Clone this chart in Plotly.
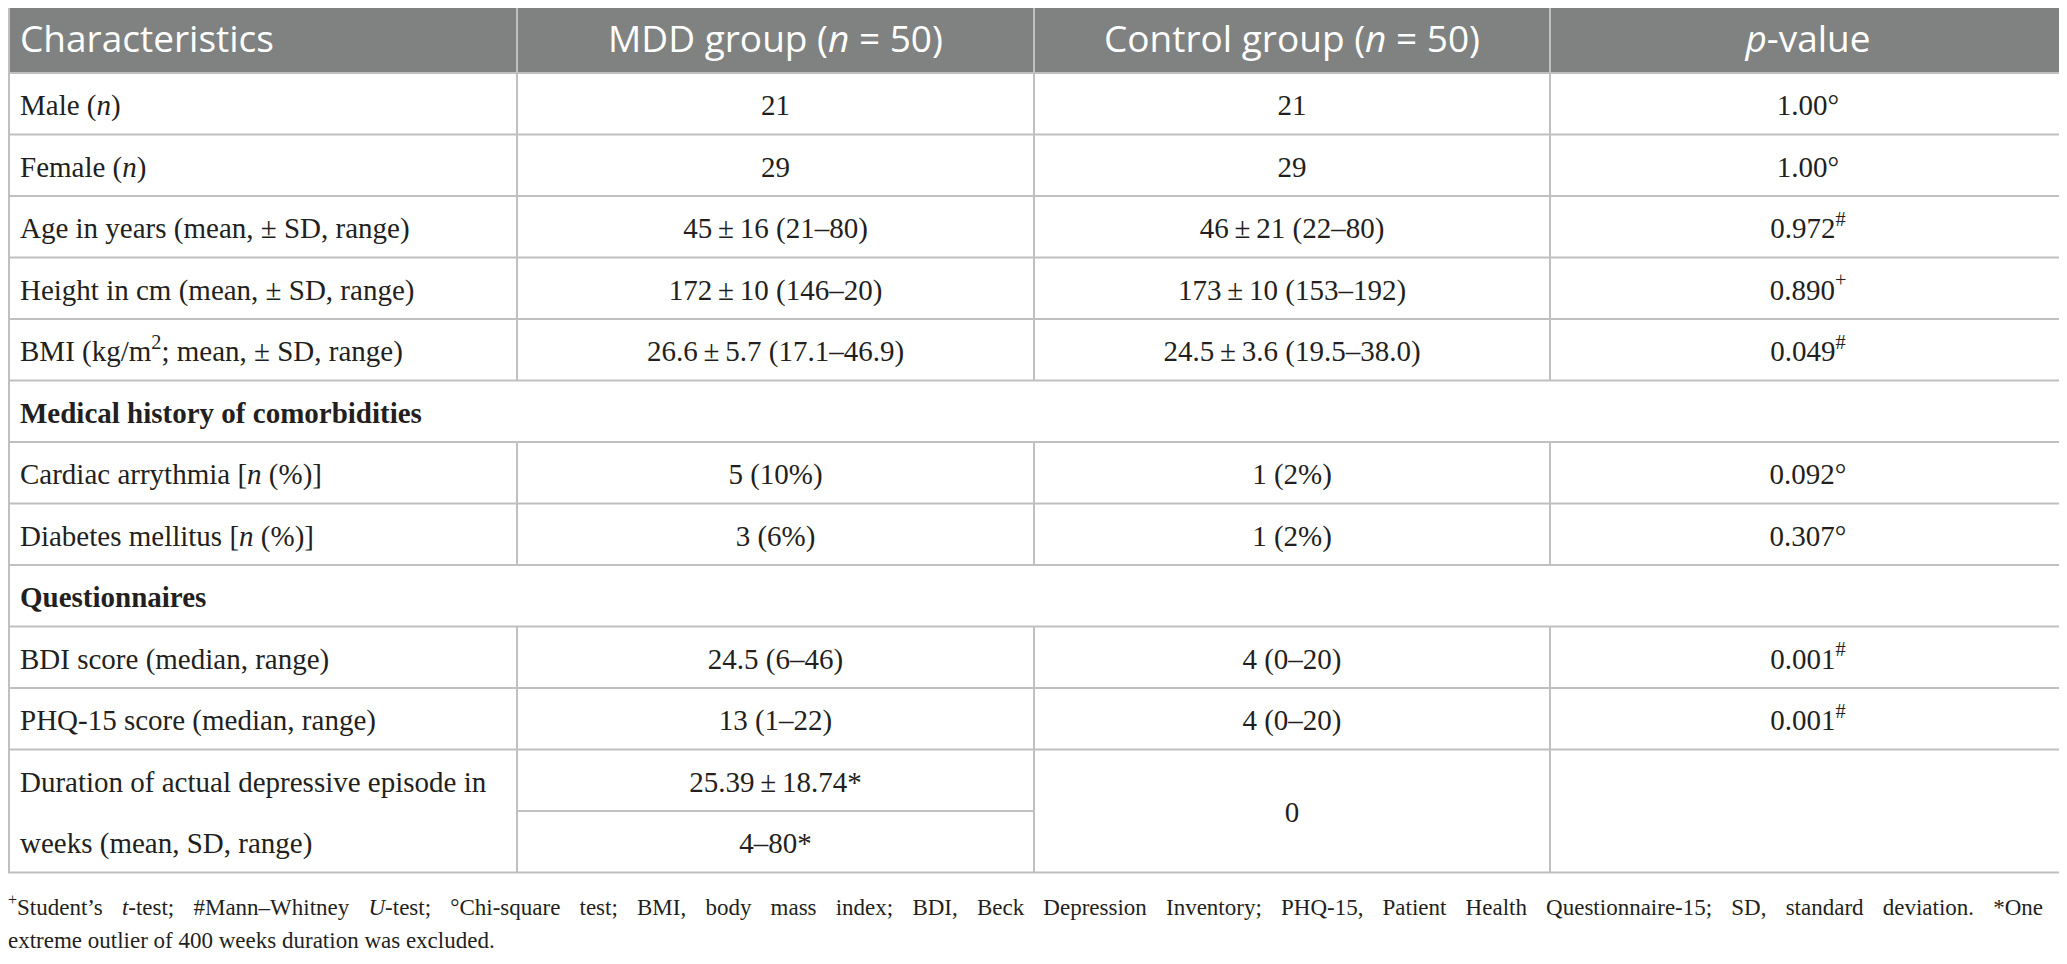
import plotly.graph_objects as go

# table content
header = ["Characteristics", "MDD group (<i>n</i> = 50)", "Control group (<i>n</i> = 50)", "<i>p</i>-value"]

labels = [
    "Male (<i>n</i>)",
    "Female (<i>n</i>)",
    "Age in years (mean, ± SD, range)",
    "Height in cm (mean, ± SD, range)",
    "BMI (kg/m<sup>2</sup>; mean, ± SD, range)",
    "<b>Medical history of comorbidities</b>",
    "Cardiac arrythmia [<i>n</i> (%)]",
    "Diabetes mellitus [<i>n</i> (%)]",
    "<b>Questionnaires</b>",
    "BDI score (median, range)",
    "PHQ-15 score (median, range)",
]
mdd = ["21", "29", "45\u2009±\u200916 (21–80)", "172\u2009±\u200910 (146–20)", "26.6\u2009±\u20095.7 (17.1–46.9)", "",
       "5 (10%)", "3 (6%)", "", "24.5 (6–46)", "13 (1–22)"]
control = ["21", "29", "46\u2009±\u200921 (22–80)", "173\u2009±\u200910 (153–192)", "24.5\u2009±\u20093.6 (19.5–38.0)", "",
           "1 (2%)", "1 (2%)", "", "4 (0–20)", "4 (0–20)"]
pvalue = ["1.00°", "1.00°", "0.972<sup>#</sup>", "0.890<sup>+</sup>", "0.049<sup>#</sup>", "",
          "0.092°", "0.307°", "", "0.001<sup>#</sup>", "0.001<sup>#</sup>"]
section_rows = [5, 8]

duration_label = ["Duration of actual depressive episode in", "weeks (mean, SD, range)"]
duration_mdd = ["25.39\u2009±\u200918.74*", "4–80*"]
duration_control = "0"

footnote = [
    "<sup>+</sup>Student’s <i>t</i>-test; #Mann–Whitney <i>U</i>-test; °Chi-square test; BMI, body mass index; "
    "BDI, Beck Depression Inventory; PHQ-15, Patient Health Questionnaire-15; SD, standard deviation. *One",
    "extreme outlier of 400 weeks duration was excluded.",
]

# geometry (page pixels); the page body has an 8px margin
W, H = 2067, 964
off = 8
col_edges = [0, 517, 1034, 1550, 2066]
top = 4
head_h = 69
row_h = 61.5
pad = 20
dy = 4  # optical nudge of text within its cell
grid = "#c0c0c0"
head_fill = "#808281"
ink = "#231f20"
serif = "Liberation Serif"
sans = "Open Sans"
body_size = 29
justify_space = "\u2002\u2005\u200a"  # first footnote line is justified in the source

centers = [(col_edges[i] + col_edges[i + 1]) / 2 for i in range(4)]
body_top = top + head_h
row_y = [body_top + (i + 0.5) * row_h + dy for i in range(len(labels))]
dur_top = body_top + len(labels) * row_h
dur_bot = dur_top + 2 * row_h
dur_y = [dur_top + 0.5 * row_h + dy, dur_top + 1.5 * row_h + dy, dur_top + row_h + dy]
head_y = top + head_h / 2 + dy


def text_trace(xs, ys, texts, pos, font):
    keep = [(x, y, t) for x, y, t in zip(xs, ys, texts) if t]
    return go.Scatter(
        x=[k[0] for k in keep], y=[k[1] for k in keep], text=[k[2] for k in keep],
        mode="text", textposition=pos, textfont=font, cliponaxis=False,
        hoverinfo="skip", showlegend=False,
    )


body_font = dict(family=serif, size=body_size, color=ink)
head_font = dict(family=sans, size=37, color="white")

fig = go.Figure()

# header text
fig.add_trace(text_trace([col_edges[0] + pad], [head_y], header[:1], "middle right", head_font))
fig.add_trace(text_trace(centers[1:], [head_y] * 3, header[1:], "middle center", head_font))

# first column labels
fig.add_trace(text_trace([col_edges[0] + pad] * len(labels), row_y, labels, "middle right", body_font))

# value columns
for ci, vals in zip([1, 2, 3], [mdd, control, pvalue]):
    fig.add_trace(text_trace([centers[ci]] * len(vals), row_y, vals, "middle center", body_font))

# duration row
fig.add_trace(text_trace([col_edges[0] + pad] * 2, dur_y[:2], duration_label, "middle right", body_font))
fig.add_trace(text_trace([centers[1]] * 2 + [centers[2]], dur_y,
                         duration_mdd + [duration_control], "middle center", body_font))

# footnote
foot_lines = [footnote[0].replace(" ", justify_space), footnote[1]]
fig.add_trace(text_trace([off, off], [909, 942], foot_lines, "middle right",
                         dict(family=serif, size=23, color=ink)))

line = dict(color=grid, width=2)
shapes = []
# header block
shapes.append(dict(type="rect", x0=0, x1=col_edges[-1], y0=top, y1=body_top,
                   fillcolor=head_fill, line=dict(width=0), layer="below"))
shapes.append(dict(type="line", x0=0, x1=col_edges[-1], y0=top, y1=top, line=line))
for x in col_edges[1:-1]:
    shapes.append(dict(type="line", x0=x, x1=x, y0=top, y1=body_top, line=line))

# horizontal rules
for i in range(len(labels) + 1):
    y = body_top + i * row_h
    shapes.append(dict(type="line", x0=0, x1=col_edges[-1], y0=y, y1=y, line=line))
shapes.append(dict(type="line", x0=0, x1=col_edges[-1], y0=dur_bot, y1=dur_bot, line=line))
shapes.append(dict(type="line", x0=col_edges[1], x1=col_edges[2], y0=dur_top + row_h, y1=dur_top + row_h,
                   line=line))

# vertical rules, skipping section rows
for i in range(len(labels)):
    if i in section_rows:
        continue
    y0 = body_top + i * row_h
    for x in col_edges[1:-1]:
        shapes.append(dict(type="line", x0=x, x1=x, y0=y0, y1=y0 + row_h, line=line))
for x in col_edges[1:-1]:
    shapes.append(dict(type="line", x0=x, x1=x, y0=dur_top, y1=dur_bot, line=line))
for x in [off + 1, col_edges[-1]]:
    shapes.append(dict(type="line", x0=x, x1=x, y0=top, y1=dur_bot, line=line))

fig.update_layout(
    width=W - off, height=H - off,
    margin=dict(l=0, r=0, t=0, b=0),
    paper_bgcolor="white", plot_bgcolor="white",
    xaxis=dict(range=[off, W], visible=False, fixedrange=True),
    yaxis=dict(range=[H, off], visible=False, fixedrange=True),
    shapes=shapes,
    showlegend=False,
)

fig.write_html("out.html")
